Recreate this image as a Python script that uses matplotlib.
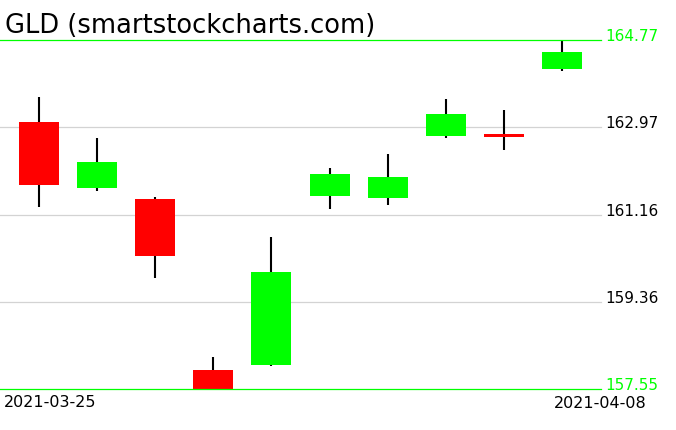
import numpy as np
import matplotlib
matplotlib.use('Agg')
import matplotlib.pyplot as plt
from matplotlib import transforms

ticker = 'GLD (smartstockcharts.com)'
first_date = '2021-03-25'
last_date = '2021-04-08'

opens = [163.07, 161.71, 161.48, 157.94, 158.05, 161.54, 161.51, 162.79, 162.83, 164.18]
highs = [163.59, 162.74, 161.52, 158.21, 160.69, 162.12, 162.41, 163.55, 163.32, 164.77]
lows = [161.32, 161.65, 159.85, 157.55, 158.03, 161.28, 161.36, 162.75, 162.50, 164.13]
closes = [161.77, 162.25, 160.31, 157.55, 159.97, 162.00, 161.94, 163.24, 162.77, 164.52]

levels = [164.77, 162.97, 161.16, 159.36, 157.55]

W, H = 676, 431
fig = plt.figure(figsize=(W / 100, H / 100), dpi=100)
ax = fig.add_axes([0, (H - 390) / H, 601 / W, 349 / H])
ax.set_xlim(-0.67, 9.67)
ax.set_ylim(min(levels), max(levels))
ax.axis('off')

o = np.array(opens)
c = np.array(closes)
x = np.arange(len(o))
up = c >= o
colors = np.where(up, '#00ff00', '#ff0000')

# wicks behind the bodies
ax.vlines(x, lows, highs, color='black', lw=1.5, zorder=2, clip_on=False)
ax.bar(x, np.abs(c - o), bottom=np.minimum(o, c), width=0.69,
       color=colors, zorder=3, clip_on=False)

# horizontal price levels + labels on the right
lab = transforms.blended_transform_factory(ax.transAxes, ax.transData)
for i, lv in enumerate(levels):
    edge = i == 0 or i == len(levels) - 1
    col = '#00ff00' if edge else '#d3d3d3'
    ax.axhline(lv, color=col, lw=0.9, zorder=1 if not edge else 4, clip_on=False)
    ax.text(1.0067, lv, '%.2f' % lv, transform=lab, ha='left', va='baseline',
            fontsize=11, color='#00ff00' if edge else 'black', clip_on=False)

fig.text(5 / W, 1 - 33 / H, ticker, fontsize=18.5, ha='left', va='baseline')
fig.text(4 / W, 1 - 407 / H, first_date, fontsize=11.5, ha='left', va='baseline')
fig.text(647 / W, 1 - 408 / H, last_date, fontsize=11.5, ha='right', va='baseline')

fig.savefig('out.png', dpi=100)
